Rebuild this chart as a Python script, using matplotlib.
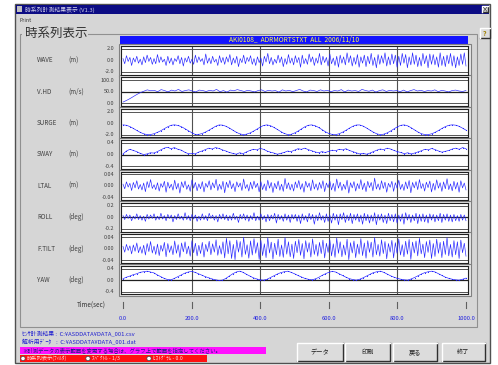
import matplotlib
matplotlib.use('Agg')
import matplotlib.pyplot as plt
from matplotlib.patches import Rectangle, Circle
import numpy as np

# ---------------- data ----------------
channel_names = ["WAVE", "V.HD", "SURGE", "SWAY", "LTAL", "ROLL", "F.TILT", "YAW"]
channel_units = ["(m)", "(m/s)", "(m)", "(m)", "(m)", "(deg)", "(deg)", "(deg)"]
tick_labels = [["2.0", "0.0", "-2.0"], ["100.0", "50.0", "0.0"], ["2.0", "0.0", "-2.0"],
               ["0.4", "0.0", "-0.4"], ["0.04", "0.00", "-0.04"], ["0.2", "0.0", "-0.2"],
               ["0.04", "0.00", "-0.04"], ["0.4", "0.0", "-0.4"]]
tick_values = [[2.0, 0.0, -2.0], [100.0, 50.0, 0.0], [2.0, 0.0, -2.0], [0.4, 0.0, -0.4],
               [0.04, 0.0, -0.04], [0.2, 0.0, -0.2], [0.04, 0.0, -0.04], [0.4, 0.0, -0.4]]
time_ticks = [0, 200, 400, 600, 800, 1000]
time_labels = ["0.0", "200.0", "400.0", "600.0", "800.0", "1000.0"]

wave = [0.3,-0.6,0.8,-0.2,0.5,-0.9,0.4,-0.3,0.7,-0.5,0.2,-0.8,0.6,-0.4,0.9,-0.2,0.5,-0.7,0.3,-0.6,
        1.0,-0.4,0.6,-0.3,0.2,-0.9,0.7,-0.5,0.4,-0.8,0.3,-0.2,0.8,-0.6,0.5,-1.0,0.4,-0.3,0.7,-0.5,
        0.2,-0.7,0.9,-0.4,0.6,-0.2,0.3,-0.8,1.1,-0.5,0.4,-0.6,0.7,-0.3,0.2,-0.9,0.8,-0.4,0.5,-0.7,
        0.6,-0.3,1.0,-0.8,0.4,-0.5,0.7,-1.1,0.3,-0.4,0.9,-0.6,0.5,-0.2,0.8,-0.7,0.3,-0.9,0.6,-0.4,
        0.4,-1.0,0.7,-0.3,1.2,-0.6,0.5,-0.8,0.2,-0.5,0.9,-0.4,0.6,-1.1,0.3,-0.7,1.0,-0.5,0.4,-0.8,
        0.8,-0.4,0.5,-1.2,0.9,-0.6,0.3,-0.7,1.1,-0.3,0.6,-0.9,0.4,-0.5,1.2,-0.8,0.7,-0.4,0.5,-1.0,
        1.1,-0.6,0.4,-0.9,0.7,-1.2,0.9,-0.5,0.6,-0.8,1.3,-0.4,0.8,-1.0,0.5,-0.7,1.0,-1.2,0.6,-0.5,
        0.9,-1.1,0.7,-0.6,1.2,-0.9,0.5,-1.3,1.0,-0.7,0.8,-0.5,1.3,-1.0,0.6,-0.8,1.1,-0.6,0.9,-1.2,
        0.7,-0.9,1.2,-0.5,1.0,-1.3,0.6,-0.8,1.3,-0.7,0.9,-1.1,0.5,-1.0,1.2,-0.6,0.8,-1.3,1.1,-0.7,
        1.0,-0.8,0.6,-1.2,1.3,-0.9,0.7,-1.1,0.9,-0.6,1.2,-1.0,0.8,-1.3,0.6,-0.9,1.1,-0.7,1.3,-1.0]

vhd = [5,12,20,29,38,46,52,58,54,56,50,59,55,49,57,53,60,51,55,58,
       53,49,57,55,51,56,53,60,50,55,48,57,54,59,55,51,56,53,49,55,
       58,51,56,53,55,48,58,53,56,50,55,60,53,49,57,55,51,58,53,56,
       50,55,53,59,49,57,53,55,51,60,55,52,57,48,55,58,51,56,53,55,
       50,57,49,55,59,53,56,51,55,53,58,50,56,53,49,55,57,53,51,55]

surge = [-0.30,-0.38,-0.60,-0.92,-1.27,-1.60,-1.85,-1.99,-1.98,-1.85,-1.62,-1.33,-0.98,-0.65,-0.38,
         -0.30,-0.40,-0.62,-0.95,-1.30,-1.65,-1.95,-1.97,-1.82,-1.57,-1.25,-0.90,-0.55,-0.32,-0.35,
         -0.55,-0.85,-1.22,-1.58,-1.85,-1.99,-1.92,-1.72,-1.42,-1.06,-0.70,-0.40,-0.31,-0.45,-0.75,
         -1.10,-1.47,-1.80,-1.98,-1.95,-1.72,-1.40,-1.02,-0.65,-0.38,-0.31,-0.45,-0.75,-1.12,-1.50,
         -1.80,-1.96,-1.99,-1.85,-1.58,-1.25,-0.88,-0.55,-0.33,-0.32,-0.52,-0.85,-1.22,-1.58,-1.86,
         -1.99,-1.92,-1.70,-1.38,-1.00,-0.65,-0.38,-0.31,-0.48,-0.80,-1.18,-1.55,-1.84,-1.98,-1.99,
         -1.85,-1.60,-1.28,-0.92,-0.60,-0.38,-0.30,-0.36,-0.56,-0.88,-1.22]

sway = [0.02,0.12,0.18,0.14,0.10,0.04,0.00,0.02,0.06,0.05,0.10,0.16,0.22,0.25,0.20,0.24,0.18,0.15,0.08,0.03,
        0.04,0.02,0.08,0.12,0.17,0.22,0.19,0.24,0.21,0.16,0.12,0.07,0.04,0.01,0.06,0.03,0.09,0.14,0.18,0.16,
        0.21,0.18,0.12,0.08,0.05,0.01,0.04,0.07,0.12,0.10,0.15,0.20,0.18,0.22,0.17,0.13,0.09,0.06,0.10,0.07,
        0.11,0.15,0.13,0.18,0.16,0.20,0.14,0.10,0.06,0.02,0.04,0.01,0.05,0.10,0.15,0.19,0.17,0.22,0.19,0.14,
        0.10,0.07,0.03,0.06,0.02,0.05,0.09,0.13,0.18,0.16,0.21,0.17,0.12,0.08,0.11,0.14,0.19,0.22,0.18,0.24,0.20]

ltal = [0.006,-0.010,0.014,-0.004,0.009,-0.016,0.012,-0.007,0.018,-0.011,0.005,-0.014,0.010,-0.020,0.015,-0.006,0.022,-0.009,0.004,-0.013,
        0.011,-0.018,0.008,-0.005,0.016,-0.022,0.013,-0.008,0.006,-0.015,0.020,-0.011,0.009,-0.025,0.014,-0.006,0.017,-0.012,0.004,-0.019,
        0.021,-0.008,0.012,-0.017,0.007,-0.010,0.015,-0.021,0.009,-0.005,0.018,-0.014,0.011,-0.007,0.023,-0.016,0.006,-0.012,0.016,-0.024,
        0.013,-0.006,0.019,-0.010,0.008,-0.020,0.014,-0.004,0.010,-0.016,0.024,-0.009,0.005,-0.018,0.013,-0.011,0.017,-0.006,0.009,-0.021,
        0.015,-0.013,0.007,-0.017,0.020,-0.008,0.012,-0.023,0.009,-0.010,0.017,-0.015,0.006,-0.019,0.026,-0.010,0.011,-0.014,0.006,-0.018,
        0.014,-0.007,0.019,-0.012,0.008,-0.022,0.016,-0.005,0.010,-0.017,0.021,-0.011,0.007,-0.015,0.012,-0.009,0.018,-0.020,0.010,-0.006,
        0.017,-0.014,0.009,-0.019,0.024,-0.008,0.013,-0.016,0.006,-0.012,0.020,-0.025,0.011,-0.007,0.015,-0.018,0.008,-0.010,0.022,-0.013,
        0.010,-0.020,0.016,-0.006,0.012,-0.017,0.027,-0.011,0.007,-0.014,0.018,-0.009,0.013,-0.022,0.009,-0.005,0.016,-0.019,0.011,-0.008,
        0.020,-0.012,0.006,-0.016,0.014,-0.010,0.019,-0.024,0.012,-0.007,0.015,-0.013,0.022,-0.009,0.008,-0.018,0.013,-0.006,0.017,-0.021,
        0.009,-0.015,0.021,-0.008,0.011,-0.019,0.014,-0.010,0.025,-0.013,0.007,-0.017,0.016,-0.011,0.012,-0.022,0.018,-0.007,0.010,-0.014]

roll = [0.03,-0.04,0.05,-0.02,0.04,-0.06,0.02,-0.03,0.06,-0.04,0.03,-0.05,0.02,-0.07,0.05,-0.03,0.04,-0.02,0.06,-0.05,
        0.02,-0.04,0.07,-0.03,0.03,-0.06,0.05,-0.02,0.04,-0.08,0.03,-0.04,0.06,-0.03,0.02,-0.05,0.08,-0.04,0.03,-0.06,
        0.05,-0.03,0.04,-0.07,0.02,-0.05,0.06,-0.04,0.03,-0.06,0.07,-0.02,0.04,-0.05,0.03,-0.08,0.05,-0.03,0.06,-0.04,
        0.04,-0.06,0.03,-0.05,0.07,-0.04,0.02,-0.09,0.05,-0.03,0.06,-0.05,0.04,-0.07,0.03,-0.04,0.08,-0.06,0.02,-0.05,
        0.06,-0.04,0.03,-0.08,0.05,-0.06,0.04,-0.03,0.07,-0.10,0.05,-0.04,0.03,-0.07,0.06,-0.05,0.04,-0.09,0.05,-0.03,
        0.05,-0.07,0.04,-0.11,0.06,-0.05,0.03,-0.08,0.07,-0.04,0.05,-0.12,0.04,-0.06,0.08,-0.05,0.03,-0.09,0.06,-0.07,
        0.04,-0.10,0.07,-0.05,0.05,-0.13,0.06,-0.04,0.08,-0.09,0.04,-0.06,0.07,-0.11,0.05,-0.05,0.06,-0.08,0.04,-0.12,
        0.07,-0.06,0.05,-0.10,0.04,-0.07,0.08,-0.13,0.05,-0.05,0.06,-0.09,0.04,-0.11,0.07,-0.06,0.05,-0.08,0.06,-0.10,
        0.04,-0.07,0.06,-0.12,0.08,-0.05,0.05,-0.09,0.04,-0.06,0.07,-0.11,0.05,-0.07,0.06,-0.08,0.04,-0.10,0.06,-0.05,
        0.05,-0.08,0.04,-0.06,0.07,-0.09,0.05,-0.05,0.06,-0.07,0.04,-0.08,0.05,-0.06,0.03,-0.07,0.05,-0.05,0.04,-0.06]

ftilt = [0.008,-0.012,0.015,-0.006,0.010,-0.018,0.013,-0.009,0.020,-0.014,0.007,-0.016,0.012,-0.022,0.018,-0.010,0.025,-0.015,0.009,-0.020,
         0.016,-0.024,0.012,-0.009,0.022,-0.028,0.018,-0.013,0.010,-0.021,0.027,-0.016,0.014,-0.030,0.020,-0.011,0.024,-0.018,0.009,-0.026,
         0.028,-0.014,0.019,-0.025,0.012,-0.017,0.022,-0.029,0.015,-0.010,0.026,-0.021,0.017,-0.012,0.031,-0.023,0.011,-0.019,0.024,-0.032,
         0.036,-0.018,0.028,-0.034,0.015,-0.038,0.030,-0.012,0.025,-0.029,0.040,-0.020,0.014,-0.033,0.027,-0.022,0.035,-0.016,0.021,-0.037,
         0.029,-0.024,0.017,-0.031,0.038,-0.015,0.023,-0.036,0.019,-0.021,0.033,-0.027,0.013,-0.030,0.039,-0.019,0.024,-0.028,0.016,-0.034,
         0.026,-0.014,0.032,-0.023,0.018,-0.035,0.028,-0.012,0.021,-0.029,0.034,-0.020,0.015,-0.026,0.022,-0.017,0.030,-0.032,0.019,-0.013,
         0.031,-0.025,0.017,-0.030,0.037,-0.016,0.024,-0.028,0.013,-0.022,0.033,-0.038,0.021,-0.015,0.027,-0.031,0.016,-0.019,0.035,-0.024,
         0.020,-0.033,0.028,-0.013,0.023,-0.029,0.039,-0.021,0.015,-0.026,0.031,-0.017,0.025,-0.035,0.018,-0.012,0.029,-0.032,0.021,-0.016,
         0.034,-0.022,0.014,-0.028,0.026,-0.019,0.032,-0.037,0.023,-0.015,0.027,-0.025,0.036,-0.018,0.016,-0.031,0.025,-0.013,0.030,-0.034,
         0.018,-0.027,0.033,-0.016,0.022,-0.031,0.026,-0.020,0.038,-0.025,0.015,-0.029,0.028,-0.021,0.024,-0.034,0.030,-0.014,0.019,-0.026]

yaw = [0.05,0.10,0.14,0.19,0.22,0.27,0.29,0.31,0.28,0.25,0.18,0.12,0.06,0.02,0.01,0.06,0.12,0.18,0.24,0.28,
       0.30,0.27,0.22,0.17,0.12,0.08,0.04,0.01,-0.01,0.00,0.06,0.14,0.22,0.28,0.31,0.27,0.20,0.14,0.08,0.04,
       0.01,0.00,0.03,0.09,0.15,0.21,0.26,0.29,0.31,0.27,0.22,0.16,0.11,0.06,0.03,0.01,0.04,0.09,0.16,0.22,
       0.27,0.30,0.28,0.22,0.16,0.10,0.05,0.02,0.00,0.03,0.08,0.14,0.20,0.26,0.29,0.31,0.27,0.21,0.15,0.10,
       0.06,0.03,0.01,0.00,0.04,0.09,0.15,0.21,0.26,0.29,0.31,0.28,0.22,0.16,0.10,0.06,0.03,0.01,0.00,0.03,0.07]

series = [wave, vhd, surge, sway, ltal, roll, ftilt, yaw]
center_line = [False, True, False, True, False, True, False, True]

# ---------------- figure ----------------
plt.rcParams['font.family'] = ['Noto Sans CJK JP', 'DejaVu Sans']
W, H = 498, 365
fig = plt.figure(figsize=(W / 100, H / 100), dpi=100)
fig.patch.set_facecolor('white')
bg = fig.add_axes([0, 0, 1, 1])
bg.set_xlim(0, W); bg.set_ylim(H, 0); bg.axis('off')


def rect(x0, y0, x1, y1, fc='none', ec='none', lw=1.0, z=1):
    bg.add_patch(Rectangle((x0, y0), x1 - x0, y1 - y0, facecolor=fc, edgecolor=ec, lw=lw, zorder=z))


def raised(x0, y0, x1, y1, z=3):
    rect(x0, y0, x1, y1, fc='#dcdcdc', z=z)
    bg.plot([x0, x1, x1], [y1, y1, y0], color='#303030', lw=1.0, zorder=z + 1)
    bg.plot([x0, x0, x1], [y1, y0, y0], color='white', lw=1.0, zorder=z + 1)


GRAY = '#d6d6d6'
# window
rect(15, 4, 490, 363, fc=GRAY, ec='#505050', lw=1.0)
rect(16, 5, 489, 14, fc='#0c0c84', z=2)
rect(17, 6, 22, 12, fc='#c0c0c0', z=3)
bg.text(25, 9.5, "時系列計測結果表示 (V1.3)", fontsize=4.2, color='#d0d0e8', va='center', ha='left', zorder=4)
raised(482, 6, 488, 12, z=3)
bg.text(485, 9, "×", fontsize=4.5, color='black', ha='center', va='center', zorder=6)
bg.text(19, 20, "Print", fontsize=3.8, color='#303030', va='center', ha='left')

# group box
rect(20, 34, 477, 327, ec='#909090', lw=0.8)
rect(22, 26, 88, 40, fc=GRAY, z=2)
bg.text(25, 33.5, "時系列表示", fontsize=9, color='#303030', va='center', ha='left', zorder=3)

# help button
raised(480, 28, 490, 38, z=3)
bg.text(485, 33, "?", fontsize=5, color='#a08000', ha='center', va='center', weight='bold', zorder=6)

# chart header bar
rect(120, 36, 468, 44, fc='#1414ff', z=2)
bg.text(294, 40, "AKI0108_  ADRMORTSTXT  ALL  2006/11/10", fontsize=4.8, color='#ffff40',
        ha='center', va='center', zorder=3)

# panel axes
X0_PX, X1_PX = 123, 466
L_PX, R_PX = 121, 468
scale = 1000.0 / (X1_PX - X0_PX)
xlo, xhi = -(X0_PX - L_PX) * scale, 1000 + (R_PX - X1_PX) * scale

for i in range(8):
    top = 46 + 31.4 * i
    bot = top + 28.6
    rect(L_PX - 2.5, top - 2, R_PX + 2.5, bot + 2, fc='#e6e6e6', ec='#808080', lw=0.8, z=2)
    ax = fig.add_axes([L_PX / W, 1 - bot / H, (R_PX - L_PX) / W, (bot - top) / H])
    ax.set_facecolor('white')
    tv = tick_values[i]
    c = tv[1]
    half = (tv[0] - tv[1])
    ax.set_xlim(xlo, xhi)
    ax.set_ylim(c - half * 1.24, c + half * 1.24)
    for t in time_ticks[1:-1]:
        ax.axvline(t, color='#505050', lw=0.8, zorder=1)
    ax.axhline(tv[0], color='#555555', lw=0.7, zorder=1)
    ax.axhline(tv[2], color='#555555', lw=0.7, zorder=1)
    if center_line[i]:
        ax.axhline(tv[1], color='#202020', lw=0.9, zorder=1)
    data = series[i]
    tt = np.linspace(0, 1000, len(data))
    smooth = i in (2, 3, 7)
    if smooth:
        ax.plot(tt, data, color='#1a1aff', lw=0.45, zorder=2, marker='.', ms=1.6, mew=0)
    else:
        ax.plot(tt, data, color='#2222ff', lw=0.45, zorder=2)
    ax.set_xticks([]); ax.set_yticks([])
    for s in ax.spines.values():
        s.set_color('#202020'); s.set_linewidth(0.8)
    # labels
    ymid = (top + bot) / 2
    bg.text(37, ymid, channel_names[i], fontsize=4.5, color='#404040', va='center', ha='left')
    bg.text(68, ymid, channel_units[i], fontsize=4.5, color='#404040', va='center', ha='left')
    for lab, val in zip(tick_labels[i], tv):
        ypx = ymid - (val - c) / (half * 1.24) * (bot - top) / 2
        bg.text(114, ypx, lab, fontsize=4.0, color='#404040', va='center', ha='right')

# time axis
for t, lab in zip(time_ticks, time_labels):
    xp = X0_PX + t / scale
    bg.plot([xp, xp], [302, 308], color='#606060', lw=0.8)
    bg.text(xp, 318, lab, fontsize=4.2, color='#2020e0', ha='center', va='center')
bg.text(77, 305, "Time(sec)", fontsize=4.5, color='#303030', ha='left', va='center')

# bottom info
bg.text(22, 334, "ｾﾝｻ計測結果 :  C:¥ASDDATA¥DATA_001.csv", fontsize=4.2, color='#2020d0', ha='left', va='center')
bg.text(22, 341, "解析用ﾃﾞｰﾀ    :  C:¥ASDDATA¥DATA_001.dat", fontsize=4.2, color='#2020d0', ha='left', va='center')
rect(20, 347, 266, 353.5, fc='#ff10ff', z=2)
bg.text(22, 350.3, "※計測データの表示範囲を変更する場合は、グラフ上で範囲を指定してください。",
        fontsize=3.9, color='#202080', ha='left', va='center', zorder=3)
rect(20, 355, 207, 362, fc='#ff1010', z=2)
for cx, lab in [(23, "時系列表示(ﾌｨﾙﾀ)"), (88, "ｽﾍﾟｸﾄﾙ - 1/3"), (149, "ﾋｽﾄｸﾞﾗﾑ - 0.0")]:
    bg.add_patch(Circle((cx, 358.5), 2.2, facecolor='white', edgecolor='#404040', lw=0.5, zorder=3))
    bg.text(cx + 4, 358.5, lab, fontsize=3.8, color='#ffe0e0', ha='left', va='center', zorder=3)

# buttons
for (x0, x1), lab in zip([(297, 343), (345, 390), (393, 437), (442, 485)],
                         ["データ", "印刷", "戻る", "終了"]):
    raised(x0, 343, x1, 361, z=3)
    bg.text((x0 + x1) / 2, 352, lab, fontsize=4.5, color='#202020', ha='center', va='center', zorder=6)

fig.savefig('out.png', dpi=100, facecolor='white')
